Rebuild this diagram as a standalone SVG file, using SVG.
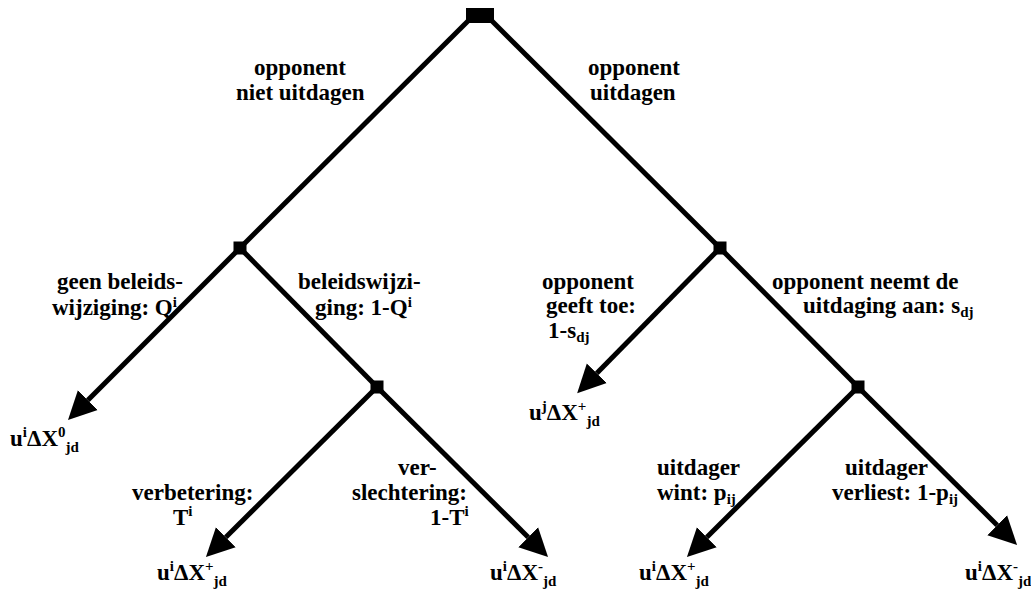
<svg xmlns="http://www.w3.org/2000/svg" width="1031" height="589" viewBox="0 0 1031 589">
<style>
  text { font-family: "Liberation Serif", "Times New Roman", serif; font-weight: bold; font-size: 23px; fill: #000; }
  .sm { font-size: 15px; }
  .edge { stroke: #000; stroke-width: 5; fill: none; }
  .node { fill: #000; }
</style>
<defs>
  <marker id="arr" markerUnits="userSpaceOnUse" viewBox="0 -15 30 30" refX="0" refY="0" markerWidth="30" markerHeight="30" orient="auto">
    <path d="M0,-14 L28,0 L0,14 z" fill="#000"/>
  </marker>
</defs>
<rect width="1031" height="589" fill="#fff"/>
<g id="connectors">
  <line class="edge" x1="468" y1="21" x2="240" y2="248"/>
  <line class="edge" x1="492" y1="21" x2="720" y2="248"/>
  <line class="edge" x1="240" y1="248" x2="87.8" y2="400.2" marker-end="url(#arr)"/>
  <line class="edge" x1="240" y1="248" x2="377" y2="387"/>
  <line class="edge" x1="377" y1="387" x2="225.8" y2="537.2" marker-end="url(#arr)"/>
  <line class="edge" x1="377" y1="387" x2="528.2" y2="537.2" marker-end="url(#arr)"/>
  <line class="edge" x1="720" y1="248" x2="596.8" y2="373.2" marker-end="url(#arr)"/>
  <line class="edge" x1="720" y1="248" x2="858" y2="387"/>
  <line class="edge" x1="858" y1="387" x2="706.8" y2="537.2" marker-end="url(#arr)"/>
  <line class="edge" x1="858" y1="387" x2="997.2" y2="525.2" marker-end="url(#arr)"/>
</g>
<g id="root"><rect class="node" x="466" y="8" width="28" height="15"/></g>
<g id="n-niet"><rect class="node" x="233.5" y="241.5" width="13" height="13"/></g>
<g id="n-beleid"><rect class="node" x="370.5" y="380.5" width="13" height="13"/></g>
<g id="n-uitdagen"><rect class="node" x="713.5" y="241.5" width="13" height="13"/></g>
<g id="n-aan"><rect class="node" x="851.5" y="380.5" width="13" height="13"/></g>
<g id="labels">
  <text x="254" y="75">opponent</text>
  <text x="236" y="100">niet uitdagen</text>
  <text x="588" y="75">opponent</text>
  <text x="590" y="100">uitdagen</text>
  <text x="57" y="289">geen beleids-</text>
  <text x="52" y="315">wijziging: Q<tspan class="sm" dy="-8">i</tspan></text>
  <text x="298" y="289">beleidswijzi-</text>
  <text x="315" y="315">ging: 1-Q<tspan class="sm" dy="-8">i</tspan></text>
  <text x="542" y="289">opponent</text>
  <text x="546" y="313">geeft toe:</text>
  <text x="548" y="338">1-s<tspan class="sm" dy="4">dj</tspan></text>
  <text x="772" y="289">opponent neemt de</text>
  <text x="803" y="313">uitdaging aan: s<tspan class="sm" dy="4">dj</tspan></text>
  <text x="132" y="500">verbetering:</text>
  <text x="173" y="525">T<tspan class="sm" dy="-9">i</tspan></text>
  <text x="398" y="475">ver-</text>
  <text x="352" y="500">slechtering:</text>
  <text x="430" y="525">1-T<tspan class="sm" dy="-9">i</tspan></text>
  <text x="657" y="475">uitdager</text>
  <text x="657" y="500">wint: p<tspan class="sm" dy="4">ij</tspan></text>
  <text x="845" y="475">uitdager</text>
  <text x="832" y="500">verliest: 1-p<tspan class="sm" dy="4">ij</tspan></text>
</g>
<g id="leaf-1"><text x="10" y="446">u<tspan class="sm" dy="-9">i</tspan><tspan dy="9">ΔX</tspan><tspan class="sm" dy="-9">0</tspan><tspan class="sm" dy="15">jd</tspan></text></g>
<g id="leaf-2"><text x="529" y="420">u<tspan class="sm" dy="-9">j</tspan><tspan dy="9">ΔX</tspan><tspan class="sm" dy="-9">+</tspan><tspan class="sm" dy="15">jd</tspan></text></g>
<g id="leaf-3"><text x="157" y="580">u<tspan class="sm" dy="-9">i</tspan><tspan dy="9">ΔX</tspan><tspan class="sm" dy="-9">+</tspan><tspan class="sm" dy="15">jd</tspan></text></g>
<g id="leaf-4"><text x="490" y="580">u<tspan class="sm" dy="-9">i</tspan><tspan dy="9">ΔX</tspan><tspan class="sm" dy="-9">-</tspan><tspan class="sm" dy="15">jd</tspan></text></g>
<g id="leaf-5"><text x="639" y="580">u<tspan class="sm" dy="-9">i</tspan><tspan dy="9">ΔX</tspan><tspan class="sm" dy="-9">+</tspan><tspan class="sm" dy="15">jd</tspan></text></g>
<g id="leaf-6"><text x="965" y="580">u<tspan class="sm" dy="-9">i</tspan><tspan dy="9">ΔX</tspan><tspan class="sm" dy="-9">-</tspan><tspan class="sm" dy="15">jd</tspan></text></g>
</svg>
